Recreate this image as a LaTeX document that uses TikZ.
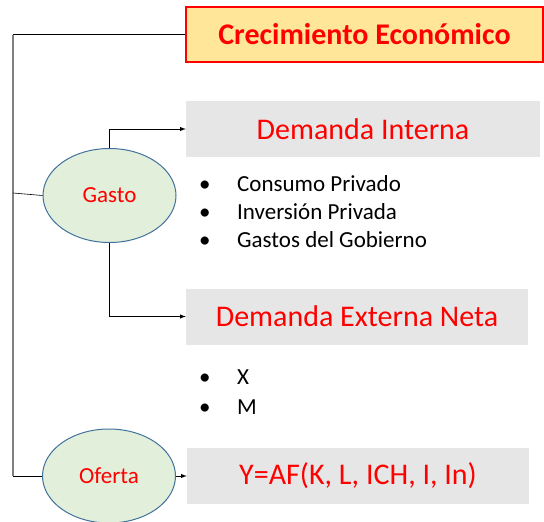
\documentclass[tikz,border=0pt]{standalone}
\usepackage{fontspec}
\setmainfont{Carlito}
\usepackage{xcolor}
\usetikzlibrary{shapes,arrows,positioning,fit}

\definecolor{titlefill}{HTML}{FFE699}
\definecolor{boxgray}{HTML}{E7E6E6}
\definecolor{ovalfill}{HTML}{E2EFDA}
\definecolor{ovaldraw}{HTML}{41719C}
\definecolor{textred}{HTML}{FF0000}

\begin{document}
\begin{tikzpicture}[
    x=1pt, y=-1pt,
    title/.style={rectangle, draw=textred, line width=1.2pt, fill=titlefill, minimum width=357pt, minimum height=55pt, font=\fontsize{30}{36}\selectfont\bfseries, text=textred},
    block/.style={rectangle, fill=boxgray, minimum height=56pt, font=\fontsize{30}{36}\selectfont, text=textred},
    oval/.style={ellipse, draw=ovaldraw, line width=1pt, fill=ovalfill, minimum width=133pt, minimum height=94pt, font=\fontsize{23}{28}\selectfont, text=textred},
    items/.style={font=\fontsize{23}{28}\selectfont, align=left, anchor=base west, inner sep=0pt},
    arrow/.style={line width=1pt,->,>=latex},
    link/.style={line width=0.6pt}
]
    \useasboundingbox (0,0) rectangle (544,522);

    % Title and main boxes
    \node [title] (growth) at (364.5,34.5) {Crecimiento Económico};
    \node [block, minimum width=354pt] (intdem) at (363,129) {Demanda Interna};
    \node [block, minimum width=342pt] (extdem) at (357,316.5) {Demanda Externa Neta};
    \node [block, minimum width=342pt] (prod) at (358,476) {Y=AF(K, L, ICH, I, In)};

    % Ovals
    \node [oval] (gasto) at (109.5,195.5) {Gasto};
    \node [oval] (oferta) at (109,476) {Oferta};

    % Bullet lists
    \node [items] (intlist) at (199,191) {%
        \begin{tabular}[t]{@{}p{38pt}@{}l@{}}
        \textbullet & Consumo Privado\\
        \textbullet & Inversión Privada\\
        \textbullet & Gastos del Gobierno
        \end{tabular}};
    \node [items] (extlist) at (199,384) {%
        \begin{tabular}[t]{@{}p{38pt}@{}l@{}}
        \textbullet & X\\[2pt]
        \textbullet & M
        \end{tabular}};

    %--- Left spine ---
    \coordinate (spinetop) at (13,34.5);
    \coordinate (spinemid) at (13,193);
    \coordinate (spinebot) at (13,476);
    \draw [link] (growth.west) -- (spinetop);
    \draw [gray, line width=1.2pt] (spinetop) -- (spinebot);
    \draw [link] (spinemid) -- (gasto.west);
    \draw [link] (spinebot) -- (oferta.west);

    %--- Arrows to the boxes ---
    \draw [arrow] (gasto.north) |- (intdem.west);
    \draw [arrow] (gasto.south) |- (extdem.west);
    \draw [arrow] (oferta.east) -- (prod.west);

\end{tikzpicture}
\end{document}
